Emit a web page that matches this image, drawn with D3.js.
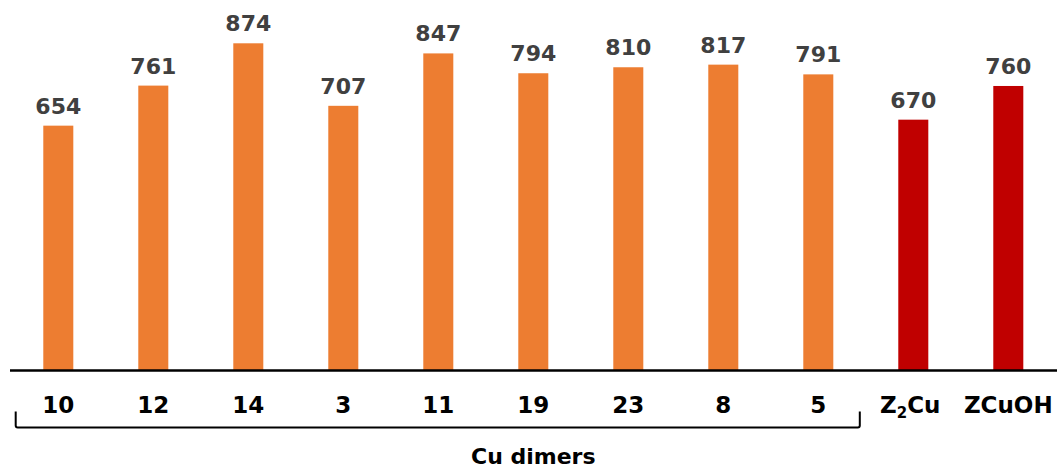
<!DOCTYPE html>
<html>
<head>
<meta charset="utf-8">
<script src="https://cdn.jsdelivr.net/npm/d3@7"></script>
<style>
  html, body { margin: 0; padding: 0; background: #fff; }
  svg { display: block; }
  text { font-family: "DejaVu Sans", sans-serif; font-weight: bold; }
</style>
</head>
<body>
<svg id="chart" width="1057" height="470"></svg>
<script>
// Categories (Cu dimer sites, then reference species) and their values
const categories = ["10", "12", "14", "3", "11", "19", "23", "8", "5", "Z2Cu", "ZCuOH"];
const values = [654, 761, 874, 707, 847, 794, 810, 817, 791, 670, 760];
const groups = ["dimer", "dimer", "dimer", "dimer", "dimer", "dimer", "dimer", "dimer", "dimer", "ref", "ref"];
const groupLabel = "Cu dimers";

const colors = { dimer: "#ED7D31", ref: "#C00000" };

const svg = d3.select("#chart");
const baseY = 370.5;

const x = d3.scaleBand()
  .domain(categories)
  .range([10.8, 1055.8])
  .paddingInner(0.684)
  .paddingOuter(0.342);

const y = d3.scaleLinear()
  .domain([0, 874])
  .range([baseY, 43.3]);

const data = categories.map((c, i) => ({ cat: c, value: values[i], group: groups[i] }));

// Bars
svg.append("g")
  .selectAll("rect")
  .data(data)
  .join("rect")
  .attr("x", d => x(d.cat))
  .attr("y", d => y(d.value))
  .attr("width", x.bandwidth())
  .attr("height", d => y(0) - y(d.value))
  .attr("fill", d => colors[d.group]);

// Value labels above bars
svg.append("g")
  .selectAll("text")
  .data(data)
  .join("text")
  .attr("x", d => x(d.cat) + x.bandwidth() / 2)
  .attr("y", d => y(d.value) - 12)
  .attr("text-anchor", "middle")
  .attr("font-size", 22)
  .attr("fill", "#404040")
  .text(d => d.value);

// Baseline axis
const axis = d3.axisBottom(x).tickSize(0).tickFormat("");
const axisG = svg.append("g")
  .attr("transform", `translate(0,${baseY})`)
  .call(axis);
axisG.select(".domain")
  .attr("d", "M10,0H1057")
  .attr("stroke", "#000")
  .attr("stroke-width", 2.5);

// Category labels (with subscript for Z2Cu)
const catG = svg.append("g");
data.forEach(d => {
  const t = catG.append("text")
    .attr("x", x(d.cat) + x.bandwidth() / 2 - (d.cat === "Z2Cu" ? 3 : 0))
    .attr("y", 412.5)
    .attr("text-anchor", "middle")
    .attr("font-size", 23)
    .attr("fill", "#000");
  const m = d.cat.match(/^([A-Za-z]+)(\d)([A-Za-z]+)$/);
  if (m) {
    t.append("tspan").text(m[1]);
    t.append("tspan").attr("font-size", 15).attr("dy", 5).text(m[2]);
    t.append("tspan").attr("dy", -5).text(m[3]);
  } else {
    t.text(d.cat);
  }
});

// Bracket under the Cu dimer group
const dimerCats = categories.filter((c, i) => groups[i] === "dimer");
const bx0 = 15.7;
const bx1 = x(dimerCats[dimerCats.length - 1]) + x.bandwidth() / 2 + 41.5;
const by0 = 411.5, by1 = 427.5;
svg.append("path")
  .attr("d", `M${bx0},${by0}V${by1 - 2}Q${bx0},${by1} ${bx0 + 2},${by1}H${bx1 - 2}Q${bx1},${by1} ${bx1},${by1 - 2}V${by0}`)
  .attr("fill", "none")
  .attr("stroke", "#000")
  .attr("stroke-width", 2);

svg.append("text")
  .attr("x", x("19") + x.bandwidth() / 2)
  .attr("y", 464)
  .attr("text-anchor", "middle")
  .attr("font-size", 22)
  .attr("fill", "#000")
  .text(groupLabel);
</script>
</body>
</html>
